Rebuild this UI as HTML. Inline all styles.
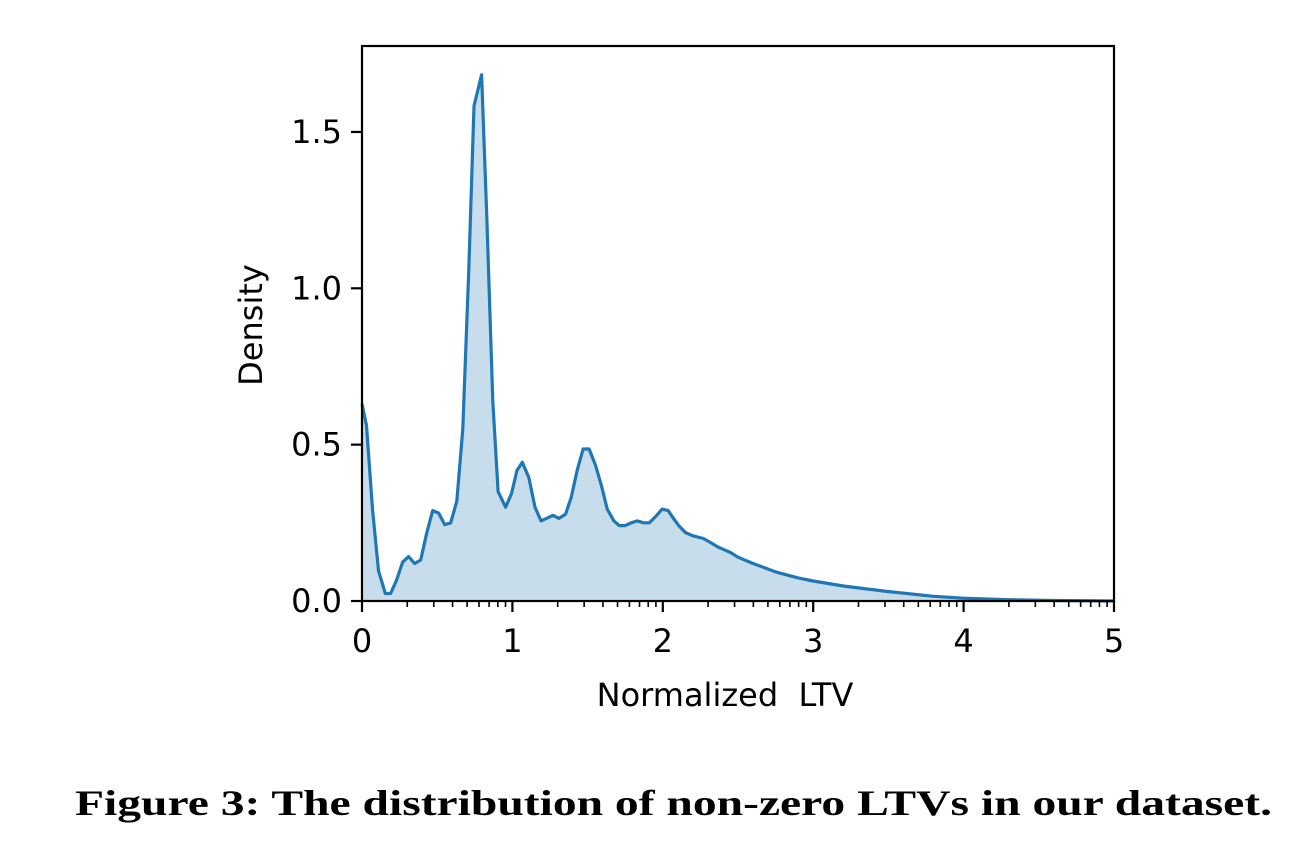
<!DOCTYPE html>
<html><head><meta charset="utf-8"><style>
html,body{margin:0;padding:0;background:#fff;}
svg{display:block;}
text{font-family:"DejaVu Sans","Liberation Sans",sans-serif;fill:#000;}
</style></head><body>
<svg id="chart" width="1308" height="858" viewBox="0 0 1308 858">
<g id="plot"></g>
<text x="262" y="325" font-size="32" text-anchor="middle" transform="rotate(-90 262 325)">Density</text>
<text x="725" y="706" font-size="32" text-anchor="middle" xml:space="preserve">Normalized  LTV</text>
<text x="75" y="815" font-size="36" font-weight="bold" textLength="1197" lengthAdjust="spacingAndGlyphs" style="font-family:'Liberation Serif',serif">Figure 3: The distribution of non-zero LTVs in our dataset.</text>
</svg>
<script>
const xs=[0,.03,.07,.11,.155,.19,.23,.27,.31,.35,.39,.43,.47,.51,.55,.59,.63,.67,.71,.745,.795,.83,.87,.905,.955,.995,1.03,1.066,1.11,1.15,1.19,1.27,1.31,1.354,1.39,1.43,1.47,1.51,1.553,1.593,1.63,1.675,1.71,1.75,1.79,1.83,1.874,1.91,1.95,1.996,2.035,2.073,2.106,2.15,2.195,2.27,2.31,2.37,2.45,2.5,2.6,2.75,2.9,3.0,3.2,3.5,3.8,4.0,4.3,4.6,5.0];
const ys=[.63,.561,.294,.097,.024,.024,.067,.124,.142,.12,.131,.217,.289,.281,.244,.25,.319,.55,1.06,1.583,1.683,1.228,.639,.35,.30,.344,.417,.444,.394,.30,.256,.274,.264,.278,.33,.417,.486,.486,.433,.367,.294,.256,.241,.241,.25,.256,.25,.25,.269,.294,.289,.263,.241,.219,.209,.2,.189,.172,.155,.14,.12,.093,.074,.064,.048,.03,.015,.009,.004,.0015,0];
const xTicks=[0,1,2,3,4,5];
const yTicks=[0,0.5,1.0,1.5];
const yTickLabels=["0.0","0.5","1.0","1.5"];
const X0=362,X1=1114,Y0=601,Y1=46,XMAX=5,YMAX=(601-46)/312.7;
const sx=v=>X0+v/XMAX*(X1-X0), sy=v=>Y0-v/YMAX*(Y0-Y1);
const NS="http://www.w3.org/2000/svg", g=document.getElementById('plot');
function mk(t,a){const e=document.createElementNS(NS,t);for(const k in a)e.setAttribute(k,a[k]);g.appendChild(e);return e;}
let d=xs.map((x,i)=>(i?'L':'M')+sx(x).toFixed(1)+','+sy(ys[i]).toFixed(1)).join('');
const fill=mk('path',{d:d+'L'+sx(xs[xs.length-1])+','+sy(0)+'L'+sx(0)+','+sy(0)+'Z',fill:'rgba(31,119,180,0.25)'});


const line=mk('path',{d:d,fill:'none',stroke:'#1f77b4','stroke-width':3.2,'stroke-linejoin':'round'});


const frame=mk('rect',{x:X0,y:Y1,width:X1-X0,height:Y0-Y1,fill:'none',stroke:'#000','stroke-width':2.2});


xTicks.forEach(t=>{
  const l=mk('line',{x1:sx(t),x2:sx(t),y1:Y0,y2:Y0+11,stroke:'#000','stroke-width':2.2});
  
  
  const tx=mk('text',{x:sx(t),y:Y0+51,'font-size':32,'text-anchor':'middle'});tx.textContent=String(t);
  
  
  if(t<XMAX)for(let k=2;k<=9;k++){const m=mk('line',{x1:sx(t+Math.log10(k)),x2:sx(t+Math.log10(k)),y1:Y0,y2:Y0+6,stroke:'#000','stroke-width':1.6});
    
    }
});
yTicks.forEach((t,i)=>{
  const l=mk('line',{x1:X0-11,x2:X0,y1:sy(t),y2:sy(t),stroke:'#000','stroke-width':2.2});
  
  
  const tx=mk('text',{x:X0-20,y:sy(t)+11,'font-size':32,'text-anchor':'end'});tx.textContent=yTickLabels[i];
  
  
});
</script>
</body></html>
